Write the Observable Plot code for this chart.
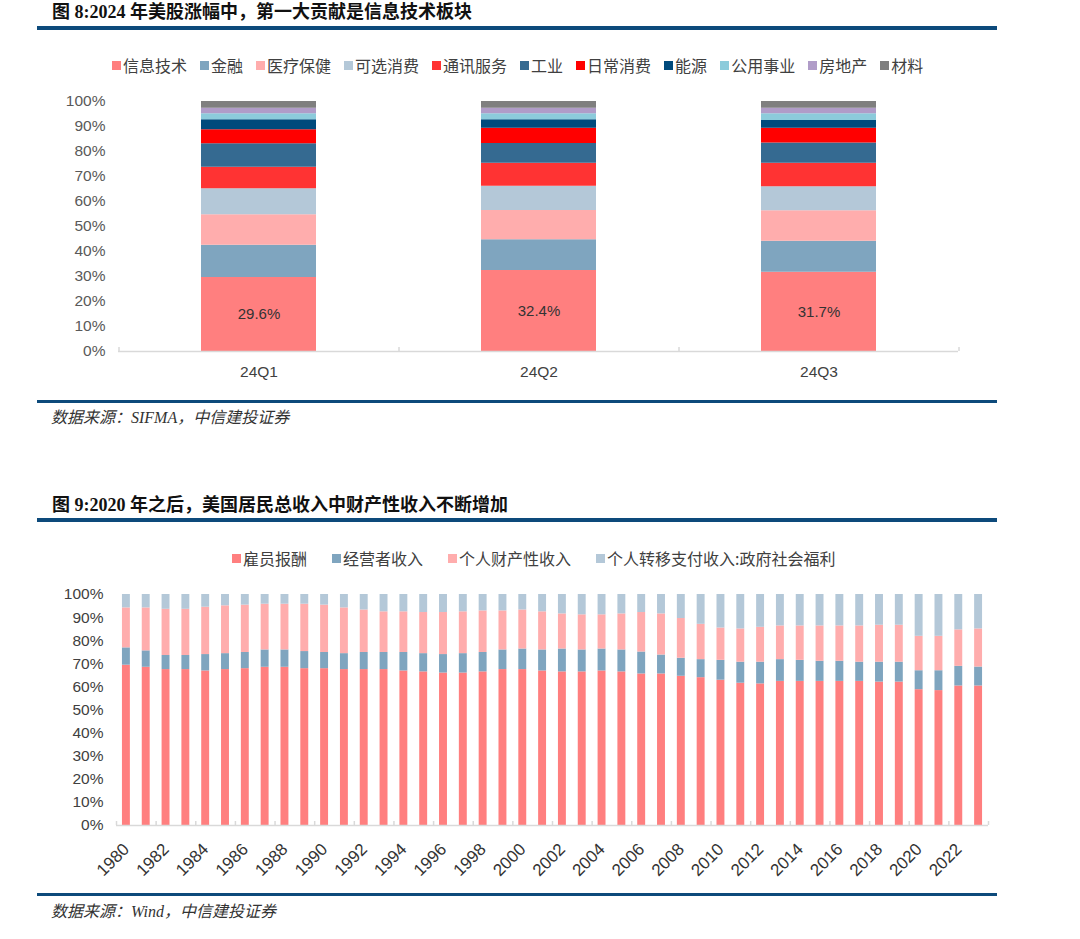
<!DOCTYPE html>
<html>
<head>
<meta charset="utf-8">
<script src="https://cdn.jsdelivr.net/npm/d3@7"></script>
<script src="https://cdn.jsdelivr.net/npm/@observablehq/plot@0.6"></script>
<style>
  html, body { margin: 0; padding: 0; background: #fff; }
  #page { position: relative; width: 1080px; height: 939px; background: #fff; overflow: hidden; }
  .title { position: absolute; left: 52px; font-family: "Liberation Serif", "Noto Sans CJK SC", serif; font-weight: bold; font-size: 18px; line-height: 24px; color: #111; white-space: nowrap; }
  .rule { position: absolute; left: 37px; width: 960px; background: #0d4a7b; }
  .source { position: absolute; left: 51px; font-family: "Liberation Serif", "Noto Sans CJK SC", serif; font-style: italic; font-size: 16px; line-height: 20px; color: #333; white-space: nowrap; }
  .legend { position: absolute; display: flex; align-items: center; font-family: "Noto Sans CJK SC", sans-serif; font-size: 16px; line-height: 18px; color: #404040; white-space: nowrap; }
  .legend .item { display: flex; align-items: center; }
  .legend .sw { width: 9px; height: 9px; margin-right: 2px; }
  .chart { position: absolute; left: 0; }
</style>
</head>
<body>
<div id="page">
  <div class="title" style="top:0px">图 8:2024 年美股涨幅中，第一大贡献是信息技术板块</div>
  <div class="rule" style="top:26px;height:4px"></div>
  <div id="legend1" class="legend" style="top:56px;left:112px"></div>
  <div id="chart1" class="chart" style="top:85px"></div>
  <div class="rule" style="top:400px;height:3px"></div>
  <div class="source" style="top:408px">数据来源：SIFMA，中信建投证券</div>

  <div class="title" style="top:493px">图 9:2020 年之后，美国居民总收入中财产性收入不断增加</div>
  <div class="rule" style="top:518px;height:4px"></div>
  <div id="legend2" class="legend" style="top:549px;left:232px"></div>
  <div id="chart2" class="chart" style="top:575px"></div>
  <div class="rule" style="top:893px;height:3px"></div>
  <div class="source" style="top:902px">数据来源：Wind，中信建投证券</div>
</div>
<script>
// ---------- Chart 1 data ----------
const quarters = ["24Q1", "24Q2", "24Q3"];
const sectors = ["信息技术", "金融", "医疗保健", "可选消费", "通讯服务", "工业", "日常消费", "能源", "公用事业", "房地产", "材料"];
const sectorColors = ["#ff7f7f", "#7fa5bf", "#ffadad", "#b4c8d8", "#ff3333", "#356a91", "#ff0000", "#004a7c", "#8ccbdb", "#b09cc8", "#7f7f7f"];
const share24Q1 = [29.6, 12.9, 12.2, 10.4, 8.6, 9.4, 5.6, 4.0, 2.4, 2.2, 2.7];
const share24Q2 = [32.4, 12.3, 11.7, 9.7, 9.2, 7.9, 6.1, 3.4, 2.4, 2.2, 2.7];
const share24Q3 = [31.7, 12.4, 12.2, 9.6, 9.4, 8.1, 5.9, 3.1, 2.7, 2.2, 2.7];
const percentTicks1 = [0, 10, 20, 30, 40, 50, 60, 70, 80, 90, 100];

// ---------- Chart 2 data ----------
const years = [1980,1981,1982,1983,1984,1985,1986,1987,1988,1989,1990,1991,1992,1993,1994,1995,1996,1997,1998,1999,2000,2001,2002,2003,2004,2005,2006,2007,2008,2009,2010,2011,2012,2013,2014,2015,2016,2017,2018,2019,2020,2021,2022,2023];
const incomeTypes = ["雇员报酬", "经营者收入", "个人财产性收入", "个人转移支付收入:政府社会福利"];
const incomeColors = ["#ff7f7f", "#7fa5bf", "#ffadad", "#b4c8d8"];
const compensation = [69.4,68.5,67.5,67.5,66.9,67.5,67.9,68.5,68.5,67.9,67.9,67.5,67.5,67.5,66.9,66.5,66.0,66.0,66.5,67.5,67.5,66.9,66.5,66.5,66.9,66.5,65.6,65.6,64.6,64.0,62.9,61.6,61.3,62.4,62.4,62.4,62.4,62.4,62.1,62.1,58.8,58.4,60.4,60.4];
const proprietors = [7.5,7.1,6.1,6.1,7.1,6.9,7.0,7.5,7.5,7.4,7.0,6.9,7.4,7.4,8.0,7.9,8.0,8.4,8.4,8.5,8.9,9.1,9.9,9.5,9.5,9.5,9.5,8.2,7.8,7.8,8.6,9.1,9.4,9.4,9.1,8.7,8.7,8.3,8.6,8.6,8.2,8.6,8.5,8.2];
const propertyIncome = [17.3,18.6,20.0,20.0,20.5,20.7,20.5,19.8,19.8,20.5,20.5,19.8,18.4,17.6,17.6,17.8,18.2,18.1,18.0,16.9,16.9,16.5,15.2,15.2,14.8,15.6,17.1,17.8,17.2,15.3,14.0,14.4,15.1,14.6,14.9,15.3,15.3,15.7,16.0,16.0,14.9,14.9,15.8,16.5];
const transfers = [5.8,5.8,6.4,6.4,5.5,4.9,4.6,4.2,4.2,4.2,4.6,5.8,6.7,7.5,7.5,7.8,7.8,7.5,7.1,7.1,6.7,7.5,8.4,8.8,8.8,8.4,7.8,8.4,10.4,12.9,14.5,14.9,14.2,13.6,13.6,13.6,13.6,13.6,13.3,13.3,18.1,18.1,15.3,14.9];
const yearLabels = years.filter(y => y % 2 === 0);
const percentTicks2 = [0, 10, 20, 30, 40, 50, 60, 70, 80, 90, 100];

// ---------- Legends ----------
function buildLegend(id, names, colors, gap) {
  const el = document.getElementById(id);
  names.forEach((n, i) => {
    const it = document.createElement("div");
    it.className = "item";
    if (i > 0) it.style.marginLeft = gap + "px";
    const sw = document.createElement("div");
    sw.className = "sw";
    sw.style.background = colors[i];
    const tx = document.createElement("span");
    tx.textContent = n;
    it.appendChild(sw); it.appendChild(tx);
    el.appendChild(it);
  });
}
buildLegend("legend1", sectors, sectorColors, 13);
buildLegend("legend2", incomeTypes, incomeColors, 25);

// ---------- Chart 1 ----------
const shares = [share24Q1, share24Q2, share24Q3];
const rows1 = quarters.flatMap((q, i) => sectors.map((s, j) => ({quarter: q, sector: s, value: shares[i][j]})));
const W = 1080;
const c1 = {mt: 16, mb: 40, ml: 118, mr: 122, h: 306};
const step1 = (W - c1.ml - c1.mr) / quarters.length;
const plotH1 = c1.h - c1.mt - c1.mb;
const axisGray = "#d9d9d9";

const chart1 = Plot.plot({
  width: W, height: c1.h,
  marginTop: c1.mt, marginBottom: c1.mb, marginLeft: c1.ml, marginRight: c1.mr,
  style: {fontFamily: "'Liberation Sans', Arial, sans-serif", fontSize: "15px", color: "#595959", background: "transparent"},
  x: {domain: quarters, paddingInner: 0.59, paddingOuter: 0.295, label: null},
  y: {domain: [0, 100], label: null},
  color: {domain: sectors, range: sectorColors},
  marks: [
    Plot.barY(rows1, {x: "quarter", y: "value", fill: "sector"}),
    Plot.ruleY([0], {stroke: axisGray, strokeWidth: 1.5}),
    Plot.tickX(quarters, {x: d => d, dx: -step1 / 2, stroke: axisGray, strokeWidth: 1.5, insetTop: plotH1 - 4}),
    Plot.tickX(quarters.slice(-1), {x: d => d, dx: step1 / 2, stroke: axisGray, strokeWidth: 1.5, insetTop: plotH1 - 4}),
    Plot.text(rows1.filter(d => d.sector === sectors[0]), {x: "quarter", y: d => d.value / 2, text: d => d.value.toFixed(1) + "%", fill: "#333", fontSize: 15}),
    Plot.axisY({ticks: percentTicks1, tickFormat: d => d + "%", tickSize: 0, tickPadding: 13, fill: "#595959", fontSize: 15.5}),
    Plot.axisX({tickSize: 0, tickPadding: 14, fill: "#404040", fontSize: 15.5})
  ]
});
document.getElementById("chart1").appendChild(chart1);

// ---------- Chart 2 ----------
const series2 = [compensation, proprietors, propertyIncome, transfers];
const rows2 = years.flatMap((y, i) => incomeTypes.map((t, j) => ({year: y, type: t, value: series2[j][i]})));
const c2 = {mt: 19, mb: 60, ml: 116, mr: 92, h: 310};
const step2 = (W - c2.ml - c2.mr) / years.length;
const plotH2 = c2.h - c2.mt - c2.mb;

const chart2 = Plot.plot({
  width: W, height: c2.h,
  marginTop: c2.mt, marginBottom: c2.mb, marginLeft: c2.ml, marginRight: c2.mr,
  style: {fontFamily: "'Liberation Sans', Arial, sans-serif", fontSize: "15px", color: "#404040", background: "transparent"},
  x: {domain: years, paddingInner: 0.6, paddingOuter: 0.3, label: null},
  y: {domain: [0, 100], label: null},
  color: {domain: incomeTypes, range: incomeColors},
  marks: [
    Plot.barY(rows2, {x: "year", y: "value", fill: "type"}),
    Plot.ruleY([0], {stroke: axisGray, strokeWidth: 1.5}),
    Plot.tickX(yearLabels, {x: d => d, dx: -step2 / 2, stroke: axisGray, strokeWidth: 1.5, insetTop: plotH2 - 4}),
    Plot.tickX(years.slice(-1), {x: d => d, dx: step2 / 2, stroke: axisGray, strokeWidth: 1.5, insetTop: plotH2 - 4}),
    Plot.axisY({ticks: percentTicks2, tickFormat: d => d + "%", tickSize: 0, tickPadding: 13, fill: "#404040", fontSize: 15.5}),
    Plot.axisX({ticks: yearLabels, tickFormat: d => String(d), tickSize: 0, tickPadding: 13, tickRotate: -45, dy: 8, fill: "#333", fontSize: 17})
  ]
});
document.getElementById("chart2").appendChild(chart2);
</script>
</body>
</html>
